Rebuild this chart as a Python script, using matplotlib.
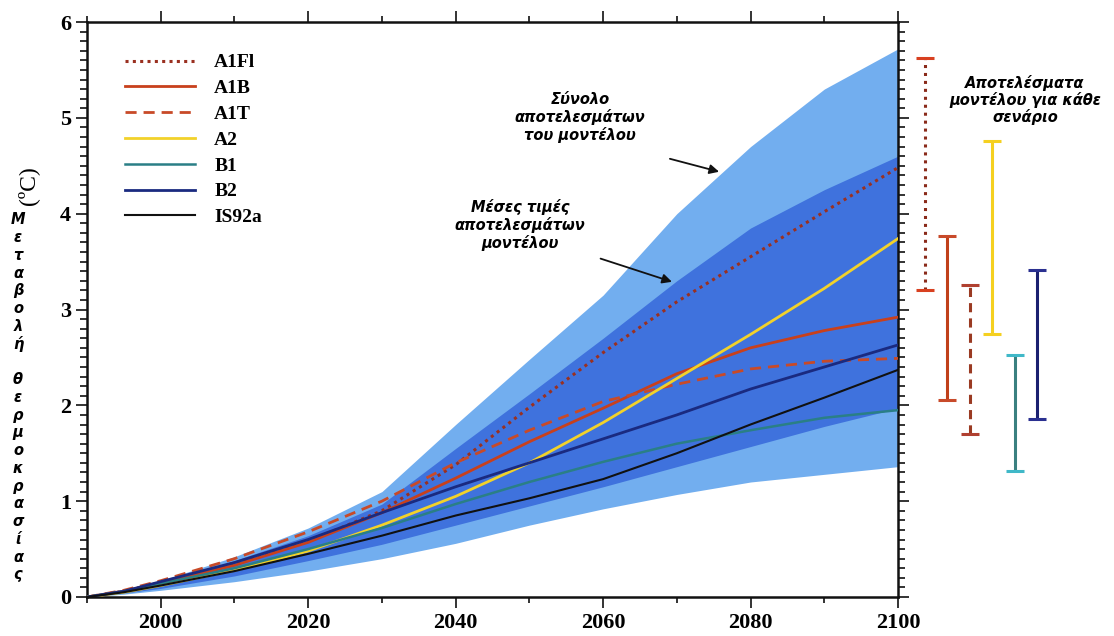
import numpy as np
import matplotlib.pyplot as plt
from matplotlib.ticker import MultipleLocator

# Χρονιές και τιμές (°C) όπως διαβάζονται από το γράφημα
years = [1990, 1995, 2000, 2010, 2020, 2030, 2040, 2050, 2060, 2070, 2080, 2090, 2100]

envelope_hi = [0, 0.07, 0.17, 0.42, 0.72, 1.10, 1.80, 2.48, 3.15, 4.00, 4.70, 5.30, 5.72]
envelope_lo = [0, 0.03, 0.07, 0.16, 0.27, 0.40, 0.56, 0.75, 0.92, 1.07, 1.20, 1.28, 1.36]
mean_hi = [0, 0.06, 0.15, 0.38, 0.64, 0.97, 1.55, 2.12, 2.70, 3.30, 3.85, 4.25, 4.60]
mean_lo = [0, 0.04, 0.09, 0.22, 0.38, 0.55, 0.75, 0.95, 1.15, 1.36, 1.57, 1.78, 1.97]

scenarios = ['A1FI', 'A1B', 'A1T', 'A2', 'B1', 'B2', 'IS92a']
legend_labels = ['A1Fl', 'A1B', 'A1T', 'A2', 'B1', 'B2', 'IS92a']
series = {
    'A1FI': [0, 0.06, 0.15, 0.34, 0.58, 0.90, 1.38, 1.98, 2.55, 3.08, 3.55, 4.02, 4.48],
    'A1B': [0, 0.06, 0.15, 0.33, 0.57, 0.88, 1.24, 1.62, 1.97, 2.33, 2.60, 2.78, 2.92],
    'A1T': [0, 0.07, 0.17, 0.40, 0.68, 1.00, 1.40, 1.74, 2.04, 2.22, 2.38, 2.46, 2.49],
    'A2': [0, 0.05, 0.12, 0.28, 0.48, 0.75, 1.05, 1.40, 1.82, 2.28, 2.74, 3.22, 3.74],
    'B1': [0, 0.06, 0.14, 0.30, 0.50, 0.72, 0.97, 1.20, 1.41, 1.60, 1.74, 1.87, 1.95],
    'B2': [0, 0.06, 0.16, 0.36, 0.60, 0.88, 1.15, 1.40, 1.65, 1.90, 2.17, 2.40, 2.63],
    'IS92a': [0, 0.05, 0.12, 0.27, 0.45, 0.64, 0.85, 1.03, 1.23, 1.50, 1.80, 2.08, 2.37],
}

# εύρος αποτελεσμάτων για κάθε σενάριο στο 2100
range_names = ['A1FI', 'A1B', 'A1T', 'A2', 'B1', 'B2']
range_lo = [3.20, 2.06, 1.70, 2.74, 1.32, 1.86]
range_hi = [5.62, 3.77, 3.26, 4.76, 2.53, 3.41]

colors = {'A1FI': '#9a3020', 'A1B': '#c8401c', 'A1T': '#c84a28', 'A2': '#f2d22a',
          'B1': '#2a7f86', 'B2': '#1a2a80', 'IS92a': '#111111'}
styles = {'A1FI': (0, (1, 1.4)), 'A1B': '-', 'A1T': (0, (4, 2.5)), 'A2': '-',
          'B1': '-', 'B2': '-', 'IS92a': '-'}
widths = {'A1FI': 2.2, 'A1B': 2.0, 'A1T': 2.0, 'A2': 2.0, 'B1': 1.8, 'B2': 2.0, 'IS92a': 1.5}

fig = plt.figure(figsize=(11.14, 6.36), dpi=100)
ax = fig.add_axes([87 / 1114, 1 - 597 / 636, 811 / 1114, 575 / 636])

ax.fill_between(years, envelope_lo, envelope_hi, color='#72aeef', lw=0, zorder=1)
ax.fill_between(years, mean_lo, mean_hi, color='#3f72dd', lw=0, zorder=2)

for name, lab in zip(scenarios, legend_labels):
    ax.plot(years, series[name], color=colors[name], ls=styles[name],
            lw=widths[name], label=lab, zorder=3)

ax.set_xlim(1990, 2100)
ax.set_ylim(0, 6)
ax.xaxis.set_major_locator(MultipleLocator(20))
ax.xaxis.set_minor_locator(MultipleLocator(10))
ax.yaxis.set_major_locator(MultipleLocator(1))
ax.yaxis.set_minor_locator(MultipleLocator(0.1))
ax.set_xticks([2000, 2020, 2040, 2060, 2080, 2100])
ax.tick_params(which='both', direction='out', top=True, right=True, color='#111', width=1.2)
ax.tick_params(which='major', length=8)
ax.tick_params(which='minor', length=5)
ax.tick_params(axis='x', which='minor', length=4)
for lbl in ax.get_xticklabels() + ax.get_yticklabels():
    lbl.set_fontfamily('Liberation Serif')
    lbl.set_fontweight('bold')
    lbl.set_fontsize(16)
for sp in ax.spines.values():
    sp.set_linewidth(1.8)
    sp.set_color('#111')

leg = ax.legend(loc='upper left', bbox_to_anchor=(0.025, 0.975), frameon=False,
                handlelength=3.6, labelspacing=0.42, handletextpad=1.0,
                prop={'family': 'Liberation Serif', 'weight': 'bold', 'size': 14})

# σχόλια με βέλη
gfont = dict(family='DejaVu Sans', style='italic', weight='bold', fontsize=10.5)
ax.text(2056.9, 5.0, 'Σύνολο\nαποτελεσμάτων\nτου μοντέλου', ha='center', va='center',
        linespacing=1.15, **gfont)
ax.annotate('', xy=(2076.1, 4.43), xytext=(2068.7, 4.58),
            arrowprops=dict(arrowstyle='-|>', color='#111', lw=1.3, mutation_scale=14))
ax.text(2048.7, 3.88, 'Μέσες τιμές\nαποτελεσμάτων\nμοντέλου', ha='center', va='center',
        linespacing=1.15, **gfont)
ax.annotate('', xy=(2069.7, 3.28), xytext=(2059.3, 3.54),
            arrowprops=dict(arrowstyle='-|>', color='#111', lw=1.3, mutation_scale=14))

# τίτλος άξονα y
fig.text(28 / 1114, 1 - 186 / 636, '(ºC)', rotation=90, ha='center', va='center',
         family='Liberation Serif', fontsize=17)
letters = 'Μεταβολή θερμοκρασίας'
for i, ch in enumerate(letters):
    if ch == ' ':
        continue
    fig.text(18 / 1114, 1 - (220 + i * 17.75) / 636, ch, ha='center', va='center',
             family='DejaVu Sans', style='italic', weight='bold', fontsize=10.5)

# εύρη ανά σενάριο δεξιά του γραφήματος
ax2 = fig.add_axes([902.6 / 1114, 1 - 597 / 636, 156.8 / 1114, 575 / 636])
ax2.set_xlim(0, 7)
ax2.set_ylim(0, 6)
ax2.axis('off')
bar_colors = ['#8a2a1a', '#c0401a', '#9a3a22', '#f5d020', '#3a8080', '#1a2070']
cap_colors = ['#d84020', '#c84a2a', '#b04030', '#f5d020', '#40b8c8', '#2a3090']
bar_styles = [(0, (1, 1.6)), '-', (0, (3, 2)), '-', '-', '-']
xpos = np.arange(1, len(range_names) + 1)
for x, lo, hi, bc, cc, st in zip(xpos, range_lo, range_hi, bar_colors, cap_colors, bar_styles):
    ax2.vlines(x, lo, hi, color=bc, linestyles=st, lw=2.2)
    ax2.hlines([lo, hi], x - 0.4, x + 0.4, color=cc, lw=2.2)
fig.text(1025 / 1114, 1 - 100 / 636, 'Αποτελέσματα\nμοντέλου για κάθε\nσενάριο',
         ha='center', va='center', linespacing=1.1, **gfont)

fig.savefig('out.png', dpi=100)
